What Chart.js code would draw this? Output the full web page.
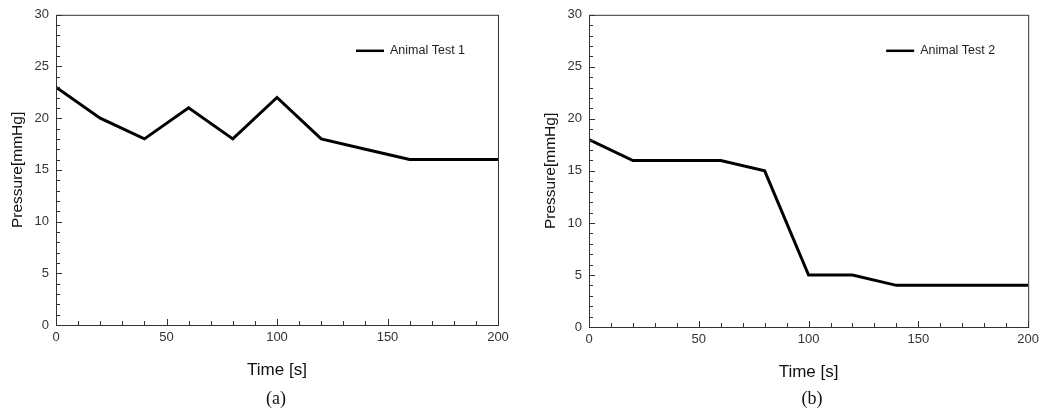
<!DOCTYPE html>
<html>
<head>
<meta charset="utf-8">
<script src="https://cdn.jsdelivr.net/npm/chart.js@4/dist/chart.umd.min.js"></script>
<style>
  body { margin: 0; background: #fff; width: 1044px; height: 410px; position: relative; overflow: hidden; }
  .panel { position: absolute; top: 0; height: 410px; }
  .caption { position: absolute; top: 388px; font: 18px "Liberation Serif", "DejaVu Serif", serif; color: #111; text-align: center; width: 60px; }
</style>
</head>
<body>
<div class="panel" style="left:0;width:520px"><canvas id="chartA" width="520" height="410"></canvas></div>
<div class="panel" style="left:520px;width:524px"><canvas id="chartB" width="524" height="410"></canvas></div>
<div class="caption" style="left:246px">(a)</div>
<div class="caption" style="left:782px">(b)</div>
<script>
// tiempos de muestreo (s) y presiones (mmHg)
const times = [0, 20, 40, 60, 80, 100, 120, 140, 160, 180, 200];
const test1 = [23, 20, 18, 21, 18, 22, 18, 17, 16, 16, 16];
const test2 = [18, 16, 16, 16, 15, 5, 5, 4, 4, 4, 4];
const xTicks = [0, 50, 100, 150, 200];
const yTicks = [0, 5, 10, 15, 20, 25, 30];

const FONT = '"Liberation Sans", Arial, sans-serif';

// marco, ticks hacia adentro y leyenda dentro del área
const framePlugin = {
  id: 'frame',
  afterDatasetsDraw(chart) {
    const ctx = chart.ctx, a = chart.chartArea;
    const xs = chart.scales.x, ys = chart.scales.y;
    ctx.save();
    ctx.strokeStyle = '#333';
    ctx.lineWidth = 1;
    ctx.strokeRect(a.left + 0.5, a.top + 0.5, a.right - a.left, a.bottom - a.top);
    ctx.beginPath();
    for (let v = 0; v <= 200; v += 10) {
      const px = Math.round(xs.getPixelForValue(v)) + 0.5;
      const len = v % 50 === 0 ? 6 : 4;
      ctx.moveTo(px, a.bottom);
      ctx.lineTo(px, a.bottom - len);
    }
    for (let v = 0; v <= 30; v += 1) {
      const py = Math.round(ys.getPixelForValue(v)) + 0.5;
      const len = v % 5 === 0 ? 6 : 4;
      ctx.moveTo(a.left, py);
      ctx.lineTo(a.left + len, py);
    }
    ctx.stroke();
    // leyenda
    const lx = a.right - 142, ly = a.top + 36;
    ctx.strokeStyle = '#000';
    ctx.lineWidth = 2.5;
    ctx.beginPath();
    ctx.moveTo(lx, ly);
    ctx.lineTo(lx + 28, ly);
    ctx.stroke();
    ctx.fillStyle = '#222';
    ctx.font = '12.5px ' + FONT;
    ctx.textBaseline = 'middle';
    ctx.fillText(chart.data.datasets[0].label, lx + 34, ly);
    ctx.restore();
  }
};

function makeChart(id, label, values, pad, yWidth) {
  return new Chart(document.getElementById(id), {
    type: 'line',
    data: {
      datasets: [{
        label: label,
        data: times.map((t, i) => ({x: t, y: values[i]})),
        borderColor: '#000',
        borderWidth: 3,
        pointRadius: 0,
        tension: 0
      }]
    },
    options: {
      responsive: false,
      animation: false,
      layout: { padding: pad },
      plugins: { legend: { display: false }, tooltip: { enabled: false } },
      scales: {
        x: {
          type: 'linear', min: 0, max: 200,
          afterBuildTicks: s => { s.ticks = xTicks.map(v => ({value: v})); },
          grid: { display: false, drawTicks: false },
          border: { display: false },
          ticks: { color: '#333', font: { family: FONT, size: 13 }, padding: 5, maxRotation: 0 },
          title: { display: true, text: 'Time [s]', color: '#111', font: { family: FONT, size: 17 }, padding: { top: 0, bottom: 4 } },
          afterFit: s => { s.height = 60; }
        },
        y: {
          type: 'linear', min: 0, max: 30,
          afterBuildTicks: s => { s.ticks = yTicks.map(v => ({value: v})); },
          grid: { display: false, drawTicks: false },
          border: { display: false },
          ticks: { color: '#333', font: { family: FONT, size: 13 }, padding: 7 },
          title: { display: true, text: 'Pressure[mmHg]', color: '#111', font: { family: FONT, size: 15.5 }, padding: { top: 8, bottom: 0 } },
          afterFit: s => { s.width = yWidth; }
        }
      }
    },
    plugins: [framePlugin]
  });
}

makeChart('chartA', 'Animal Test 1', test1, { left: 0, right: 22, top: 13, bottom: 25 }, 56);
makeChart('chartB', 'Animal Test 2', test2, { left: 13, right: 15, top: 8, bottom: 23 }, 56);
</script>
</body>
</html>
